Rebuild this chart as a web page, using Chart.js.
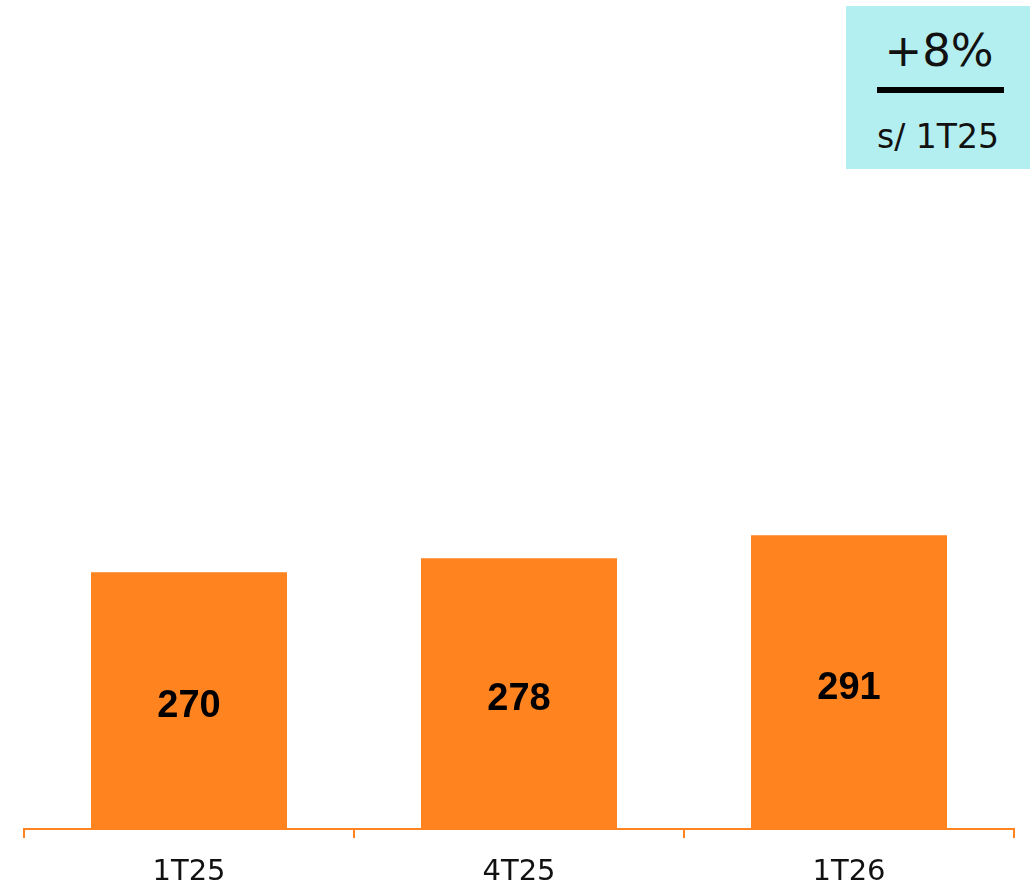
<!DOCTYPE html>
<html>
<head>
<meta charset="utf-8">
<script src="https://cdn.jsdelivr.net/npm/chart.js@4"></script>
<style>
  body { margin: 0; background: #fff; }
  #wrap { position: relative; width: 1030px; height: 885px; }
  #badge {
    position: absolute; left: 846px; top: 6px; width: 184px; height: 163px;
    background: #b3eff0; font-family: "DejaVu Sans", sans-serif; color: #111;
    text-align: center;
  }
  #badge .big { position: absolute; left: 2px; right: 0; top: 17px; font-size: 45px; line-height: 56px; }
  #badge .rule { position: absolute; left: 31px; width: 127px; top: 81px; height: 6px; background: #000; }
  #badge .small { position: absolute; left: 0; right: 0; top: 109px; font-size: 33px; line-height: 44px; }
</style>
</head>
<body>
<div id="wrap">
  <canvas id="myChart" width="1030" height="885"></canvas>
  <div id="badge">
    <div class="big">+8%</div>
    <div class="rule"></div>
    <div class="small">s/ 1T25</div>
  </div>
</div>
<script>
var categories = ['1T25', '4T25', '1T26'];
var values = [270, 278, 291];

// writes the value in the middle of each bar
var barLabels = {
    id: 'barLabels',
    afterDatasetsDraw: function(chart) {
        var ctx = chart.ctx;
        var meta = chart.getDatasetMeta(0);
        var bottom = chart.chartArea.bottom;
        ctx.save();
        ctx.font = 'bold 38px "Liberation Sans", sans-serif';
        ctx.fillStyle = '#000';
        ctx.textAlign = 'center';
        ctx.textBaseline = 'middle';
        meta.data.forEach(function(bar, i) {
            var mid = (bar.y + bottom) / 2 + 6;
            ctx.fillText(values[i], bar.x, mid);
        });
        ctx.restore();
    }
};

function myLoadFunction() {
    const ctx = document.getElementById('myChart').getContext('2d');
    var myChartConfig = {
        type: 'bar',
        data: {
            labels: categories,
            datasets: [{
                data: values,
                backgroundColor: '#ff831f',
                borderWidth: 0,
                barPercentage: 0.594,
                categoryPercentage: 1
            }]
        },
        options: {
            responsive: false,
            animation: false,
            layout: { padding: { top: 20, left: 24, right: 16, bottom: 0 } },
            plugins: { legend: { display: false }, tooltip: { enabled: false } },
            scales: {
                y: { display: false, min: 125, max: 582 },
                x: {
                    afterFit: function(scale) { scale.height = 56; },
                    border: { color: '#ff831f', width: 2 },
                    grid: {
                        offset: true,
                        drawOnChartArea: false,
                        drawTicks: true,
                        tickLength: 9,
                        color: '#ff831f',
                        lineWidth: 2
                    },
                    ticks: {
                        color: '#111',
                        padding: 17,
                        font: { family: '"DejaVu Sans", sans-serif', size: 29 }
                    }
                }
            }
        },
        plugins: [barLabels]
    };
    const myChart = new Chart(ctx, myChartConfig);
}

document.addEventListener('DOMContentLoaded', myLoadFunction);
</script>
</body>
</html>
